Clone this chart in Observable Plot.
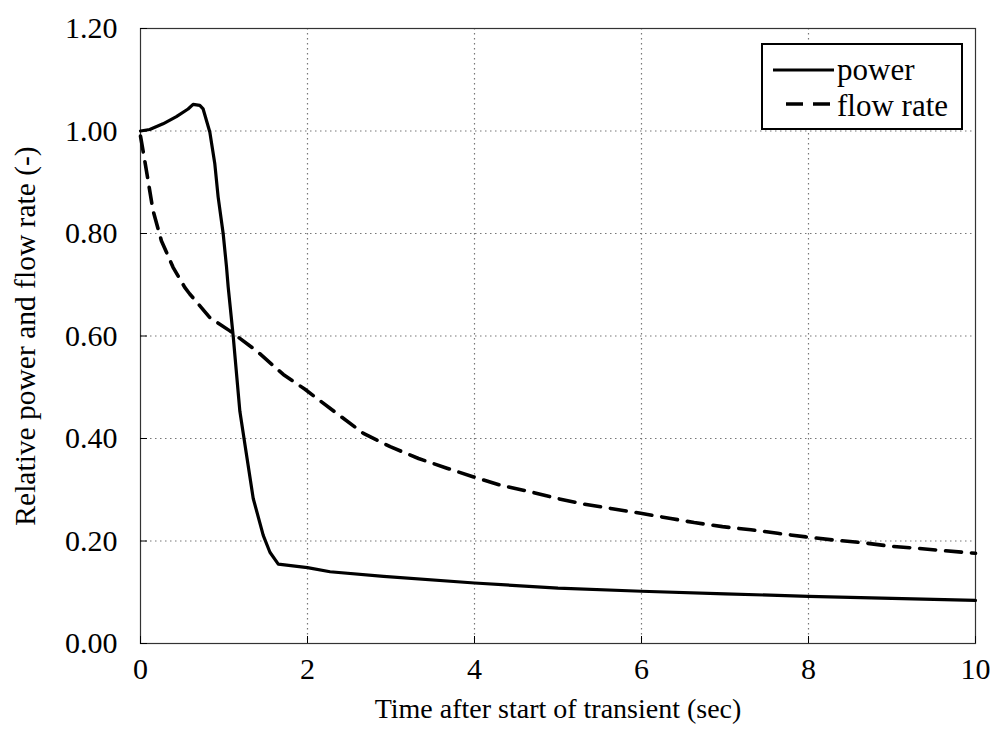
<!DOCTYPE html>
<html>
<head>
<meta charset="utf-8">
<script src="https://cdn.jsdelivr.net/npm/d3@7"></script>
<script src="https://cdn.jsdelivr.net/npm/@observablehq/plot@0.6"></script>
<style>
  html, body { margin: 0; padding: 0; background: #fff; }
  #chart { width: 995px; height: 735px; }
</style>
</head>
<body>
<div id="chart"></div>
<script>
// Power (relative)
const powerTime = [0, 0.11, 0.27, 0.43, 0.57, 0.63, 0.71, 0.75, 0.83, 0.89, 0.93, 0.99, 1.03, 1.05, 1.11, 1.19, 1.27, 1.35, 1.47, 1.55, 1.65, 2.0, 2.27, 2.91, 4.0, 5.0, 6.0, 7.0, 8.0, 9.0, 10.0];
const powerValue = [1.000, 1.003, 1.014, 1.028, 1.043, 1.052, 1.050, 1.043, 0.998, 0.936, 0.871, 0.800, 0.735, 0.696, 0.600, 0.453, 0.368, 0.283, 0.211, 0.178, 0.155, 0.148, 0.140, 0.131, 0.118, 0.108, 0.102, 0.097, 0.092, 0.088, 0.084];

// Flow rate (relative)
const flowTime = [0, 0.05, 0.15, 0.25, 0.39, 0.53, 0.59, 0.83, 1.07, 1.39, 1.71, 1.97, 2.35, 2.67, 2.99, 3.33, 3.67, 3.99, 4.31, 4.67, 4.99, 5.31, 5.65, 5.99, 6.35, 6.63, 6.97, 7.31, 7.63, 7.97, 8.29, 8.63, 8.97, 9.29, 9.63, 10.0];
const flowValue = [0.990, 0.943, 0.845, 0.786, 0.734, 0.695, 0.682, 0.636, 0.610, 0.571, 0.525, 0.496, 0.449, 0.410, 0.384, 0.361, 0.342, 0.325, 0.309, 0.296, 0.283, 0.272, 0.263, 0.254, 0.244, 0.236, 0.228, 0.222, 0.215, 0.208, 0.202, 0.197, 0.190, 0.186, 0.181, 0.176];

const xTicks = [0, 2, 4, 6, 8, 10];
const yTicks = [0, 0.2, 0.4, 0.6, 0.8, 1.0, 1.2];
const seriesNames = ["power", "flow rate"];
const xLabel = "Time after start of transient (sec)";
const yLabel = "Relative power and flow rate (-)";

const power = powerTime.map((t, i) => ({t, v: powerValue[i]}));
const flow = flowTime.map((t, i) => ({t, v: flowValue[i]}));

const serif = "'Liberation Serif', 'DejaVu Serif', serif";
const gridStyle = {stroke: "#777", strokeOpacity: 1, strokeWidth: 1.2, strokeDasharray: "1.5,3.5"};

const chart = Plot.plot({
  width: 995,
  height: 735,
  marginLeft: 140,
  marginRight: 20,
  marginTop: 28,
  marginBottom: 92,
  style: {fontFamily: serif, fontSize: "29px", color: "#000", background: "#fff"},
  x: {domain: [0, 10], ticks: xTicks},
  y: {domain: [0, 1.2], ticks: yTicks},
  marks: [
    Plot.gridX(xTicks.filter(d => d > 0 && d < 10), gridStyle),
    Plot.gridY(yTicks.filter(d => d > 0 && d < 1.2), gridStyle),
    Plot.frame({stroke: "#333", strokeWidth: 1.2}),
    Plot.axisX(xTicks, {tickSize: -7, tickPadding: 21, tickFormat: d => String(d), fontSize: 30,
      label: null}),
    Plot.axisX({ticks: [], tickSize: 0, fontSize: 28,
      label: xLabel, labelAnchor: "center", labelOffset: 74, labelArrow: "none"}),
    Plot.axisY(yTicks, {tickSize: -7, tickPadding: 30, tickFormat: d => d.toFixed(2), fontSize: 30,
      label: null}),
    Plot.axisY({ticks: [], tickSize: 0, fontSize: 29.5,
      label: yLabel, labelAnchor: "center", labelOffset: 126, labelArrow: "none"}),
    Plot.line(flow, {x: "t", y: "v", stroke: "#000", strokeWidth: 3.6, strokeDasharray: "16,10"}),
    Plot.line(power, {x: "t", y: "v", stroke: "#000", strokeWidth: 3.2, strokeLinejoin: "round"})
  ]
});

document.getElementById("chart").appendChild(chart);

// Legend box drawn into the plot's SVG
const svg = d3.select(chart);
const lg = svg.append("g").attr("class", "legend");
lg.append("rect").attr("x", 762).attr("y", 44).attr("width", 200).attr("height", 85)
  .attr("fill", "#fff").attr("stroke", "#000").attr("stroke-width", 2);
lg.append("line").attr("x1", 773).attr("x2", 834).attr("y1", 70).attr("y2", 70)
  .attr("stroke", "#000").attr("stroke-width", 3.2);
lg.append("line").attr("x1", 786).attr("x2", 834).attr("y1", 104).attr("y2", 104)
  .attr("stroke", "#000").attr("stroke-width", 3.6).attr("stroke-dasharray", "17,10");
lg.selectAll("text").data(seriesNames).join("text")
  .attr("x", 837).attr("y", (d, i) => 80 + i * 36)
  .attr("text-anchor", "start")
  .attr("font-family", serif).attr("font-size", 31)
  .attr("fill", "#000").text(d => d);
</script>
</body>
</html>
